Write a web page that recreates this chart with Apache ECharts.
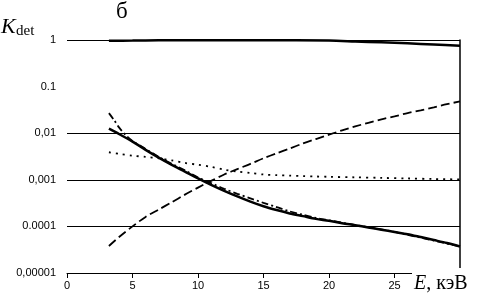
<!DOCTYPE html>
<html>
<head>
<meta charset="utf-8">
<script src="https://cdn.jsdelivr.net/npm/echarts@6/dist/echarts.min.js"></script>
<style>
  html, body { margin: 0; padding: 0; background: #fff; }
  #chart { width: 478px; height: 300px; }
</style>
</head>
<body>
<div id="chart"></div>
<script>
// верхняя кривая (около 1)
const topX = [3.2, 5, 7, 10, 15, 20, 22, 24, 26, 28, 30];
const topY = [0.96, 0.97, 0.985, 0.99, 0.99, 0.97, 0.93, 0.89, 0.85, 0.8, 0.75];

// сплошная убывающая
const solidX = [3.2, 4, 5, 6, 7, 8, 9, 10, 11, 12, 13, 14, 15, 16, 17, 18, 19, 20, 21, 22, 23, 24, 25, 26, 27, 28, 29, 30];
const solidY = [0.0125, 0.0095, 0.0066, 0.0044, 0.003, 0.0021, 0.0015, 0.00107, 0.00078, 0.00058, 0.00044, 0.00034, 0.00027, 0.000224, 0.00019, 0.000166, 0.000145, 0.000132, 0.000117, 0.000106, 0.000095, 0.000085, 0.000076, 0.000068, 0.000059, 0.000051, 0.000044, 0.000037];

// штрихпунктир убывающий
const dashDotX = [3.2, 3.6, 4, 4.5, 5, 6, 7, 8, 9, 10, 11, 12, 13, 14, 15, 16, 17, 18, 19, 20, 22, 25, 30];
const dashDotY = [0.027, 0.019, 0.013, 0.009, 0.0068, 0.0046, 0.0031, 0.0022, 0.0016, 0.00112, 0.00085, 0.00064, 0.0005, 0.0004, 0.00032, 0.00026, 0.00021, 0.000178, 0.000152, 0.000135, 0.000107, 0.000076, 0.000037];

// пунктир (точки)
const dotX = [3.2, 4, 5, 6, 7, 8, 9, 10, 11, 12, 13, 14, 15, 16, 17, 18, 19, 20, 22, 24, 26, 28, 30];
const dotY = [0.0039, 0.0036, 0.0033, 0.0031, 0.0029, 0.0026, 0.0023, 0.0021, 0.0019, 0.00165, 0.0015, 0.0014, 0.0013, 0.00126, 0.00123, 0.0012, 0.00118, 0.00116, 0.00113, 0.0011, 0.00107, 0.00104, 0.00102];

// длинный штрих, возрастающая
const riseX = [3.2, 4, 5, 6, 7, 8, 9, 10, 11, 12, 13, 14, 15, 16, 17, 18, 19, 20, 21, 22, 23, 24, 25, 26, 27, 28, 29, 30];
const riseY = [0.000038, 0.00006, 0.0001, 0.00016, 0.00023, 0.00033, 0.00048, 0.00068, 0.00095, 0.0013, 0.0017, 0.0022, 0.0029, 0.0037, 0.0047, 0.006, 0.0075, 0.0093, 0.0115, 0.014, 0.0167, 0.0198, 0.023, 0.027, 0.031, 0.036, 0.042, 0.048];

// подписи оси Y (как на рисунке)
const yTickLabels = ['0,00001', '0.0001', '0,001', '0,01', '0.1', '1'];
const xTicks = [0, 5, 10, 15, 20, 25];

const zip = (xs, ys) => xs.map((x, i) => [x, ys[i]]);

const chart = echarts.init(document.getElementById('chart'), null, { renderer: 'canvas' });

const lineSeries = (data, width, type) => ({
  type: 'line',
  data: data,
  yAxisIndex: 0,
  smooth: 0.3,
  symbol: 'none',
  animation: false,
  lineStyle: { color: '#000', width: width, type: type }
});

const option = {
  animation: false,
  grid: { left: 67, right: 18, top: 40, bottom: 27 },
  xAxis: {
    type: 'value',
    min: 0,
    max: 30,
    interval: 5,
    axisLine: { lineStyle: { color: '#000', width: 1 } },
    axisTick: { show: true, length: 5, lineStyle: { color: '#000' } },
    axisLabel: {
      color: '#000',
      fontFamily: 'Liberation Sans, Arial, sans-serif',
      fontSize: 11,
      margin: 7,
      formatter: v => (xTicks.indexOf(v) >= 0 ? String(v) : '')
    },
    splitLine: { show: false }
  },
  yAxis: [
    {
      type: 'log',
      logBase: 10,
      min: 0.00001,
      max: 1,
      position: 'left',
      axisLine: { show: false },
      axisTick: { show: false },
      axisLabel: {
        color: '#000',
        fontFamily: 'Liberation Sans, Arial, sans-serif',
        fontSize: 11,
        margin: 11,
        formatter: v => yTickLabels[Math.round(Math.log10(v)) + 5] || ''
      },
      splitLine: {
        show: true,
        lineStyle: { color: ['#000', '#000', '#000', '#000', 'rgba(0,0,0,0)', '#000'], width: 1 }
      }
    },
    {
      type: 'log',
      logBase: 10,
      min: 0.00001,
      max: 1,
      position: 'right',
      axisLine: { show: true, lineStyle: { color: '#000', width: 1.5 } },
      axisTick: { show: false },
      axisLabel: { show: false },
      splitLine: { show: false }
    }
  ],
  graphic: [
    {
      type: 'text', left: 1, top: 16, z: 100,
      style: { text: 'K', font: 'italic 22px "Liberation Serif", serif', fill: '#000' }
    },
    {
      type: 'text', left: 16, top: 24, z: 100,
      style: { text: 'det', font: '15px "Liberation Serif", serif', fill: '#000' }
    },
    {
      type: 'text', left: 116, top: 0, z: 100,
      style: { text: 'б', font: '23px "Liberation Serif", serif', fill: '#000' }
    },
    {
      type: 'rect', z: 100,
      shape: { x: 412, y: 268, width: 66, height: 32 },
      style: { fill: '#fff' }
    },
    {
      type: 'text', left: 414, top: 274, z: 101,
      style: {
        text: '{i|E}, кэВ',
        font: '20px "Liberation Serif", serif',
        fill: '#000',
        rich: { i: { fontStyle: 'italic', fontSize: 20, fontFamily: 'Liberation Serif' } }
      }
    }
  ],
  series: [
    lineSeries(zip(topX, topY), 2.5, 'solid'),
    lineSeries(zip(solidX, solidY), 2.5, 'solid'),
    lineSeries(zip(dashDotX, dashDotY), 1.8, [7, 3, 2, 3]),
    lineSeries(zip(dotX, dotY), 1.8, [2, 5]),
    lineSeries(zip(riseX, riseY), 1.8, [9, 4])
  ]
};

chart.setOption(option);
</script>
</body>
</html>
